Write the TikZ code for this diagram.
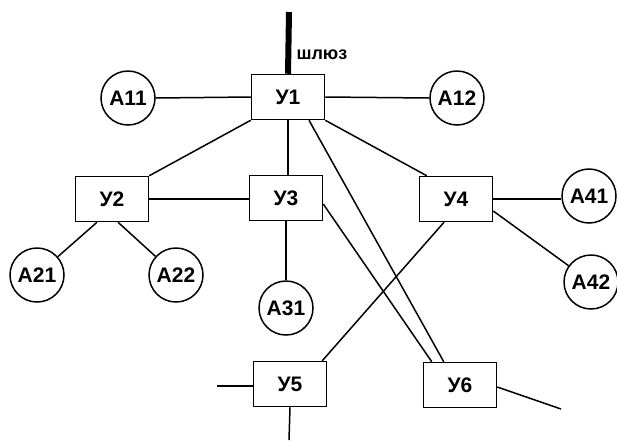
\documentclass[tikz,border=0pt]{standalone}
\usepackage{fontspec}
\setmainfont{Liberation Sans}
\usetikzlibrary{positioning, calc}

\begin{document}
\begin{tikzpicture}[
    x=1pt, y=-1pt,
    unit/.style={rectangle, draw, line width=1.5pt, minimum width=73pt, minimum height=45pt, inner sep=0pt, font=\fontsize{21}{21}\selectfont\bfseries},
    host/.style={circle, draw, line width=1.5pt, minimum size=54pt, inner sep=0pt, font=\fontsize{21}{21}\selectfont\bfseries},
    link/.style={line width=1.5pt},
    label/.style={font=\fontsize{18}{18}\selectfont\bfseries}
]
\useasboundingbox (0,0) rectangle (617,440);

%%%%%%%%%%%%%%%%%%%%%%%%%%%%%%%%%%%%%%%%%%%%%%%%%%%%%%%%%%%%%%%%%%%
% Units
%%%%%%%%%%%%%%%%%%%%%%%%%%%%%%%%%%%%%%%%%%%%%%%%%%%%%%%%%%%%%%%%%%%
\node[unit] (y1) at (288, 97) {У1};
\node[unit] (y2) at (112, 199) {У2};
\node[unit] (y3) at (286, 198) {У3};
\node[unit] (y4) at (456, 199) {У4};
\node[unit] (y5) at (290, 384) {У5};
\node[unit] (y6) at (460, 385) {У6};

%%%%%%%%%%%%%%%%%%%%%%%%%%%%%%%%%%%%%%%%%%%%%%%%%%%%%%%%%%%%%%%%%%%
% Hosts
%%%%%%%%%%%%%%%%%%%%%%%%%%%%%%%%%%%%%%%%%%%%%%%%%%%%%%%%%%%%%%%%%%%
\node[host] (a11) at (128, 98) {A11};
\node[host] (a12) at (457, 98) {A12};
\node[host] (a21) at (37, 275) {A21};
\node[host] (a22) at (176, 275) {A22};
\node[host] (a31) at (286, 308) {A31};
\node[host] (a41) at (589, 196) {A41};
\node[host] (a42) at (591, 282) {A42};

% Gateway
\coordinate (gw) at (289, 12);
\draw[line width=6pt] (y1.north) -- (gw);
\node[label, anchor=west] (gwlabel) at (293, 55) {шлюз};

% Free ends
\coordinate (y5w) at (217, 386);
\coordinate (y5s) at (289, 440);
\coordinate (y6e) at (561, 409);

%%%%%%%%%%%%%%%%%%%%%%%%%%%%%%%%%%%%%%%%%%%%%%%%%%%%%%%%%%%%%%%%%%%
% Connections - Units
%%%%%%%%%%%%%%%%%%%%%%%%%%%%%%%%%%%%%%%%%%%%%%%%%%%%%%%%%%%%%%%%%%%
\draw[link] (y1.south west) -- (y2.north east);
\draw[link] (y1.south) -- (y1.south |- y3.north);
\draw[link] ($(y1.south)+(21,0)$) -- ($(y6.north west)+(21,0)$);
\draw[link] (y1.south east) -- ($(y4.north west)+(8,0)$);
\draw[link] (y2.east) -- (y2.east -| y3.west);
\draw[link] ($(y3.east)+(0,6)$) -- ($(y6.north west)+(9,0)$);
\draw[link] ($(y4.south)+(-12,0)$) -- ($(y5.north east)+(-5,0)$);
\draw[link] ($(y4.south)+(2,0)$) -- ($(y4.south)+(2,0)$ |- y6.north);

%%%%%%%%%%%%%%%%%%%%%%%%%%%%%%%%%%%%%%%%%%%%%%%%%%%%%%%%%%%%%%%%%%%
% Connections - Hosts
%%%%%%%%%%%%%%%%%%%%%%%%%%%%%%%%%%%%%%%%%%%%%%%%%%%%%%%%%%%%%%%%%%%
\draw[link] (y1.west) -- (a11.east);
\draw[link] (y1.east) -- (a12.west);
\draw[link] ($(y2.south)+(-15,0)$) -- (a21);
\draw[link] ($(y2.south)+(6,0)$) -- (a22);
\draw[link] (y3.south) -- (a31.north);
\draw[link] (y4.east) -- (y4.east -| a41.west);
\draw[link] ($(y4.east)+(0,12)$) -- (a42);

% Outgoing lines
\draw[link] (y5.west |- y5w) -- (y5w);
\draw[link] (y5.south) -- (y5s);
\draw[link] ($(y6.east)+(0,2)$) -- (y6e);

\end{tikzpicture}
\end{document}
